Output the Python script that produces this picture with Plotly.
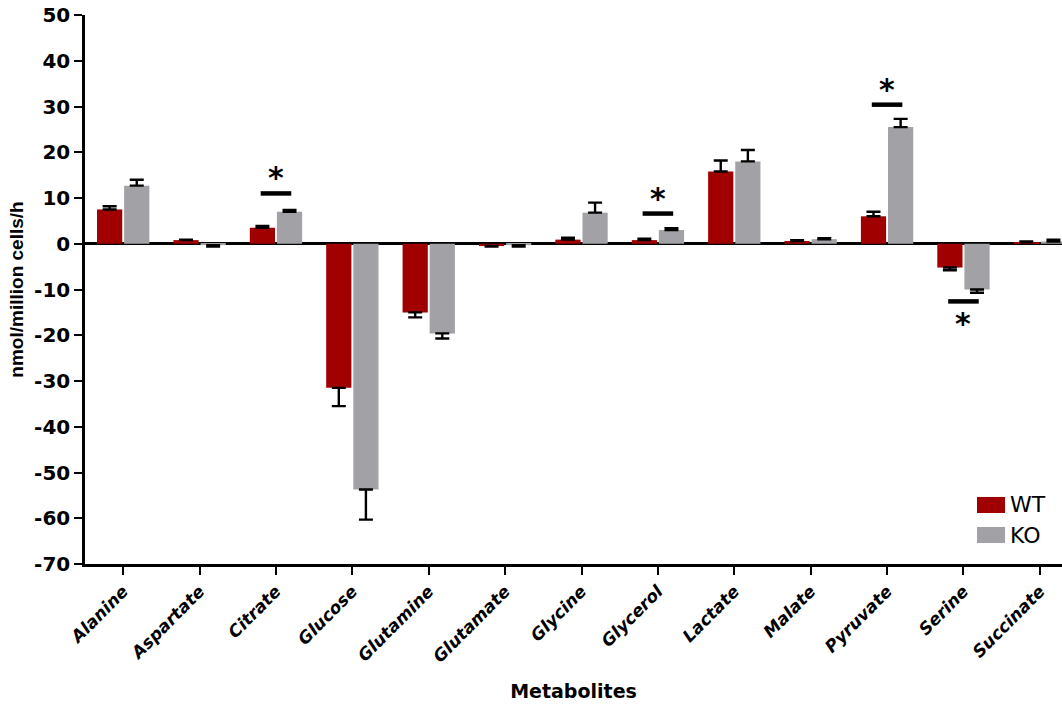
import plotly.graph_objects as go

# Metabolite uptake (-) / secretion (+) rates
metabolites = ["Alanine", "Aspartate", "Citrate", "Glucose", "Glutamine", "Glutamate",
               "Glycine", "Glycerol", "Lactate", "Malate", "Pyruvate", "Serine", "Succinate"]

wt_mean = [7.5, 0.8, 3.5, -31.5, -15.0, -0.5, 0.9, 0.8, 15.8, 0.6, 6.0, -5.2, 0.3]
wt_err = [0.7, 0.1, 0.4, 4.0, 1.1, 0.1, 0.4, 0.3, 2.4, 0.2, 1.0, 0.6, 0.2]

ko_mean = [12.7, -0.3, 7.0, -53.7, -19.6, -0.3, 6.8, 3.0, 18.0, 1.0, 25.5, -10.0, 0.5]
ko_err = [1.3, 0.3, 0.4, 6.6, 1.1, 0.3, 2.2, 0.4, 2.5, 0.2, 1.8, 0.7, 0.4]

# Significant WT vs KO comparisons: bar height and star position
sig_metabolites = ["Citrate", "Glycerol", "Pyruvate", "Serine"]
sig_line_y = [11.0, 6.6, 30.4, -12.6]
sig_star_y = [14.4, 10.0, 33.8, -17.4]

y_ticks = list(range(-70, 51, 10))
y_tick_text = [str(v) for v in y_ticks]  # plain hyphen-minus, not U+2212

groups = ["WT", "KO"]

WIDE = "DejaVu Sans, sans-serif"
NARROW = "Arial, Liberation Sans, sans-serif"
WT_COLOR = "#a10000"
KO_COLOR = "#a2a2a6"
colors = [WT_COLOR, KO_COLOR]


def one_sided(means, errs):
    # error bars point away from zero
    up = [e if m >= 0 else 0 for m, e in zip(means, errs)]
    down = [e if m < 0 else 0 for m, e in zip(means, errs)]
    return dict(type="data", symmetric=False, array=up, arrayminus=down,
                color="black", thickness=2.4, width=7)


xpos = list(range(len(metabolites)))

fig = go.Figure()
for name, means, errs, col in zip(groups, [wt_mean, ko_mean], [wt_err, ko_err], colors):
    fig.add_trace(go.Bar(name=name, x=xpos, y=means, marker_color=col,
                         marker_line_width=0, error_y=one_sided(means, errs),
                         showlegend=False))

for name, ly, sy in zip(sig_metabolites, sig_line_y, sig_star_y):
    c = metabolites.index(name)
    fig.add_shape(type="line", xref="x", yref="y", x0=c - 0.2, x1=c + 0.2, y0=ly, y1=ly,
                  line=dict(color="black", width=4.5))
    fig.add_annotation(x=c, y=sy, xref="x", yref="y", text="<b>*</b>", showarrow=False,
                       font=dict(family=WIDE, size=30, color="black"))

# key: coloured swatch + label, lower right of the plot area
key_rows = [(0.1075, WT_COLOR, "WT"), (0.0528, KO_COLOR, "KO")]
for yc, col, label in key_rows:
    fig.add_shape(type="rect", xref="paper", yref="paper",
                  x0=0.913, x1=0.9417, y0=yc - 0.0146, y1=yc + 0.0146,
                  fillcolor=col, line=dict(width=0))
    fig.add_annotation(x=0.945, y=yc, xref="paper", yref="paper", text=label,
                       xanchor="left", yanchor="middle", showarrow=False,
                       font=dict(family=WIDE, size=22, color="black"))

fig.update_layout(
    width=1062, height=705,
    margin=dict(l=85, r=0, t=15, b=141),
    paper_bgcolor="white", plot_bgcolor="white",
    barmode="group", bargap=0.29, bargroupgap=0.07,
    font=dict(family=WIDE, color="black"),
    xaxis=dict(
        tickmode="array", tickvals=xpos, ticktext=metabolites,
        range=[-0.5, 12.29], tickangle=-45,
        tickfont=dict(family=WIDE, size=17, color="black", weight="bold", style="italic"),
        showline=True, linecolor="black", linewidth=2.5,
        ticks="outside", ticklen=8, tickwidth=2.2, tickcolor="black",
        showgrid=False, zeroline=False,
        title=dict(text="<b>Metabolites</b>", font=dict(family=WIDE, size=19), standoff=20),
    ),
    yaxis=dict(
        range=[-70, 50], tickmode="array", tickvals=y_ticks, ticktext=y_tick_text,
        tickfont=dict(family=WIDE, size=20, color="black", weight="bold"),
        showline=True, linecolor="black", linewidth=2.5,
        ticks="outside", ticklen=8, tickwidth=2.2, tickcolor="black",
        showgrid=False, zeroline=True, zerolinecolor="black", zerolinewidth=2.5,
        title=dict(text="<b>nmol/million cells/h</b>", font=dict(family=NARROW, size=19), standoff=6),
    ),
)

fig.write_html("out.html")
